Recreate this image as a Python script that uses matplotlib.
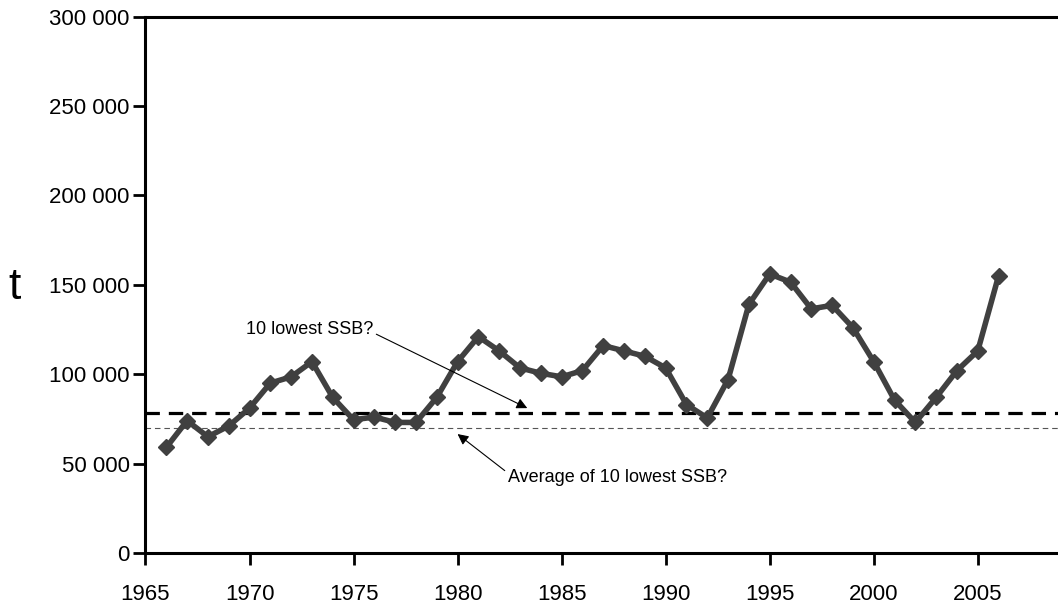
import matplotlib
matplotlib.use("Agg")
import matplotlib.pyplot as plt
from matplotlib.ticker import FuncFormatter

plt.rcParams['font.family'] = ['Liberation Sans', 'DejaVu Sans']

years = list(range(1966, 2007))
ssb = [59000, 74000, 65000, 71000, 81000, 95000, 98500, 107000, 87000, 74500,
       76000, 73000, 73000, 87000, 107000, 121000, 113000, 103500, 100500, 98500,
       102000, 116000, 113000, 110000, 103500, 83000, 75500, 97000, 139000, 156000,
       151500, 136500, 138500, 126000, 107000, 85500, 73000, 87000, 102000, 113000,
       155000]
lowest10 = 78000
avg_lowest10 = 70000

fig = plt.figure(figsize=(10.58, 6.05), dpi=100)
ax = fig.add_axes([0.1375, 0.086, 0.885, 0.8867])

ax.plot(years, ssb, color='#404040', lw=4, marker='D', ms=8.5,
        mfc='#404040', mec='#404040', solid_joinstyle='round', zorder=3)
ax.axhline(lowest10, color='black', lw=2.3, ls=(0, (4.5, 2.8)), zorder=2)
ax.axhline(avg_lowest10, color='#555555', lw=0.8, ls=(0, (5, 3.5)), zorder=2)

ax.annotate('10 lowest SSB?', xy=(1983.35, 81000), xytext=(1972.9, 125000),
            fontsize=13, ha='center', va='center',
            arrowprops=dict(arrowstyle='-|>', color='black', lw=0.8,
                            mutation_scale=16, shrinkA=0, shrinkB=0,
                            relpos=(1.0, 0.3)))
ax.annotate('Average of 10 lowest SSB?', xy=(1980.0, 66500), xytext=(1982.4, 42000),
            fontsize=13, ha='left', va='center',
            arrowprops=dict(arrowstyle='-|>', color='black', lw=0.8,
                            mutation_scale=16, shrinkA=0, shrinkB=0,
                            relpos=(0.0, 0.8)))

ax.set_xlim(1965, 2010)
ax.set_ylim(0, 300000)
ax.set_xticks(range(1965, 2010, 5))
ax.set_yticks(range(0, 300001, 50000))
ax.yaxis.set_major_formatter(FuncFormatter(lambda v, p: f"{int(v):,}".replace(',', ' ')))

for s in ['left', 'bottom', 'top']:
    ax.spines[s].set_linewidth(2.2)
ax.spines['right'].set_visible(False)
ax.tick_params(axis='both', direction='out', length=8.5, width=2, labelsize=16)
ax.tick_params(axis='x', pad=14)
ax.tick_params(axis='y', pad=3)

fig.text(0.014, 0.525, 't', fontsize=32, ha='center', va='center')

fig.savefig('out.png', dpi=100)
